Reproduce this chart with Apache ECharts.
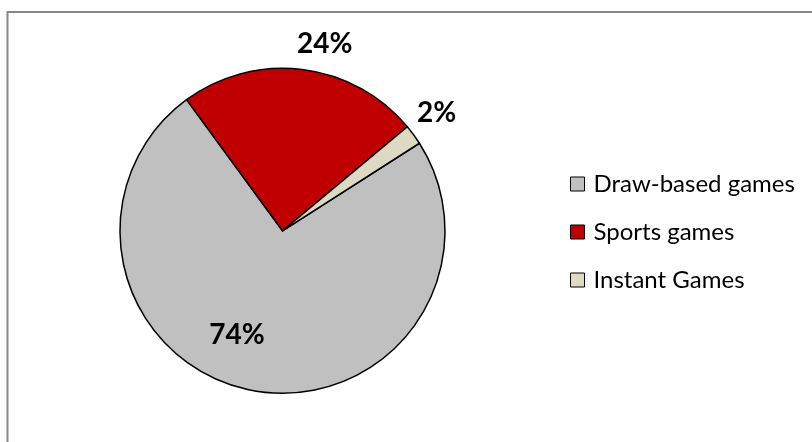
<!DOCTYPE html>
<html>
<head>
<meta charset="utf-8">
<script src="https://cdn.jsdelivr.net/npm/echarts@6/dist/echarts.min.js"></script>
<style>
  html, body { margin: 0; padding: 0; background: #fff; }
  #chart { width: 812px; height: 442px; }
</style>
</head>
<body>
<div id="chart"></div>
<script>
// Share of sales by game type
const categories = ['Draw-based games', 'Sports games', 'Instant Games'];
const shares = [74, 24, 2];
const colors = ['#C0C0C0', '#C00000', '#DDD9C3'];

// Per-slice nudges for the percentage labels (pixels from the default inside spot)
const labelNudge = [[-30, 21], [32, -103], [86, -68]];

const chart = echarts.init(document.getElementById('chart'), null, { renderer: 'canvas' });

chart.setOption({
  animation: false,
  backgroundColor: '#ffffff',
  graphic: [{
    type: 'rect',
    shape: { x: 7.5, y: 12, width: 900, height: 500 },
    style: { fill: 'none', stroke: '#878787', lineWidth: 2 },
    silent: true
  }],
  legend: {
    orient: 'vertical',
    left: 565,
    top: 167,
    icon: 'rect',
    itemWidth: 14,
    itemHeight: 14,
    itemGap: 24,
    itemStyle: { borderColor: '#000', borderWidth: 1 },
    textStyle: { fontFamily: 'Lato', fontSize: 24, color: '#000', padding: [0, 0, 0, 4] },
    data: categories
  },
  series: [{
    type: 'pie',
    center: [282.5, 230.8],
    radius: [0, 162.5],
    startAngle: 32.6,
    clockwise: true,
    avoidLabelOverlap: false,
    itemStyle: { borderColor: '#000', borderWidth: 1.5 },
    label: {
      show: true,
      position: 'inside',
      formatter: p => p.value + '%',
      fontFamily: 'Lato',
      fontWeight: 'bold',
      fontSize: 28,
      color: '#000'
    },
    labelLine: { show: false },
    emphasis: { disabled: true },
    labelLayout: p => ({ dx: labelNudge[p.dataIndex][0], dy: labelNudge[p.dataIndex][1] }),
    data: categories.map((name, i) => ({
      name,
      value: shares[i],
      itemStyle: { color: colors[i] }
    }))
  }]
});
</script>
</body>
</html>
